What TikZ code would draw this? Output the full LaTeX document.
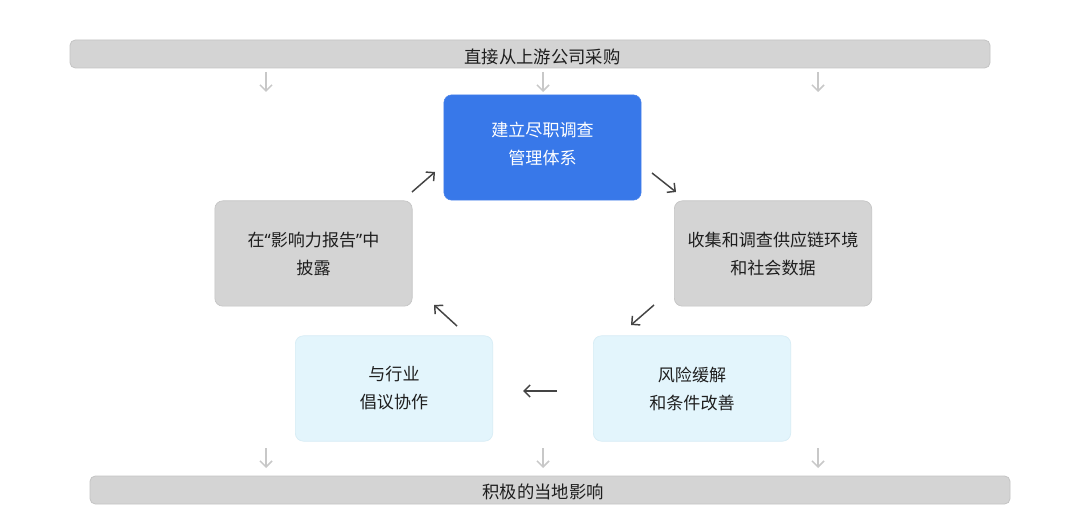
\documentclass[tikz,border=0pt]{standalone}
\usepackage{fontspec}
\setmainfont{Noto Sans CJK SC}
\newfontfamily\latinq{Noto Sans}
\usetikzlibrary{arrows.meta}
\definecolor{bargray}{HTML}{D4D4D4}
\definecolor{barline}{HTML}{C4C4C4}
\definecolor{boxblue}{HTML}{3878E9}
\definecolor{lightblue}{HTML}{E3F5FC}
\definecolor{lightline}{HTML}{D6ECF5}
\definecolor{darkarrow}{HTML}{444444}
\definecolor{lightarrow}{HTML}{C8C8C8}
\definecolor{txt}{HTML}{1E1E1E}
\tikzset{
  bar/.style={draw=barline, line width=0.6pt, fill=bargray, rounded corners=4pt, minimum width=690pt, minimum height=21pt, inner sep=0pt},
  bartext/.style={inner sep=0pt, text=txt, font=\fontsize{13pt}{15pt}\selectfont},
  box/.style={rounded corners=6pt, minimum width=148pt, minimum height=79pt, inner sep=0pt, align=center, font=\fontsize{12.8pt}{21pt}\selectfont, text=txt},
  bluebox/.style={box, fill=boxblue, draw=boxblue!90!white, text=white},
  graybox/.style={box, fill=bargray, draw=barline, line width=0.5pt},
  lbox/.style={box, fill=lightblue, draw=lightline, line width=0.5pt},
  darr/.style={draw=darkarrow, line width=1.1pt, -{Straight Barb[length=4.5pt,width=9pt]}},
  larr/.style={draw=lightarrow, line width=1.1pt, -{Straight Barb[length=4.5pt,width=9pt]}}
}
\begin{document}
\begin{tikzpicture}[x=0.75pt,y=-0.75pt]
\useasboundingbox[fill=white] (0,0) rectangle (1080,530);
% bars
\node[bar] (top) at (530,54) {};
\node[bartext] (toptext) at (542.5,56.5) {直接从上游公司采购};
\node[bar] (bot) at (550,490) {};
\node[bartext] (bottext) at (543,492) {积极的当地影响};
% boxes
\node[bluebox] (b1) at (542.5,147.5) {};
\node[text=white, align=center, font=\fontsize{12.8pt}{21pt}\selectfont] (b1t) at ([yshift=3pt]b1.center) {建立尽职调查\\管理体系};
\node[graybox] (b2) at (773,253.5) {收集和调查供应链环境\\和社会数据};
\node[lbox] (b3) at (692,388.5) {风险缓解\\和条件改善};
\node[lbox] (b4) at (394,388.5) {与行业\\倡议协作};
\node[graybox] (b5) at (313.5,253.5) {在{\latinq“}影响力报告{\latinq”}中\\披露};
% top arrows
\foreach \i/\x in {1/266,2/543,3/818}{
  \coordinate (ta\i) at (\x,72);
  \coordinate (tb\i) at (\x,92);
  \draw[larr] (ta\i) -- (tb\i);
  \coordinate (ba\i) at (\x,448);
  \coordinate (bb\i) at (\x,468);
  \draw[larr] (ba\i) -- (bb\i);
}
% cycle arrows
\coordinate (a1s) at (652,173); \coordinate (a1e) at (676,192);
\coordinate (a2s) at (654,305); \coordinate (a2e) at (631,325);
\coordinate (a3s) at (557,391); \coordinate (a3e) at (523,391);
\coordinate (a4s) at (457,326); \coordinate (a4e) at (434,305);
\coordinate (a5s) at (412,192); \coordinate (a5e) at (435,172);
\draw[darr] (a1s) -- (a1e);
\draw[darr] (a2s) -- (a2e);
\draw[darr] (a3s) -- (a3e);
\draw[darr] (a4s) -- (a4e);
\draw[darr] (a5s) -- (a5e);
\end{tikzpicture}
\end{document}
